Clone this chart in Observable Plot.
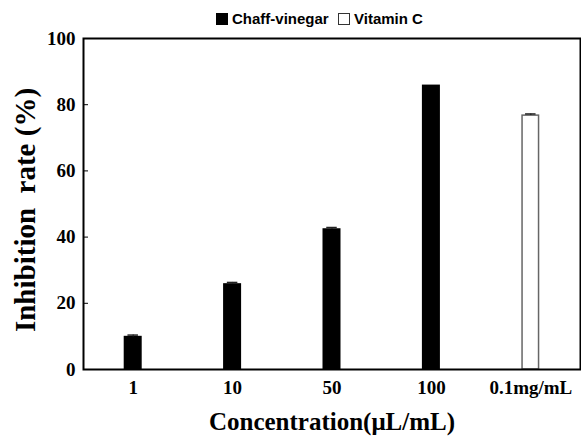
<!DOCTYPE html>
<html>
<head>
<meta charset="utf-8">
<script src="https://cdn.jsdelivr.net/npm/d3@7"></script>
<script src="https://cdn.jsdelivr.net/npm/@observablehq/plot@0.6"></script>
<style>
  html, body { margin: 0; padding: 0; background: #fff; }
  #legend { position: relative; width: 581px; height: 28px; font-family: "Liberation Sans", Arial, sans-serif; font-weight: bold; font-size: 15px; color: #000; }
  #legend .sw { position: absolute; top: 13px; width: 12px; height: 12px; box-sizing: border-box; }
  #legend .lb { position: absolute; top: 10px; line-height: 17px; }
  #chart svg { display: block; }
</style>
</head>
<body>
<div id="legend"></div>
<div id="chart"></div>
<script>
const categories = ["1", "10", "50", "100", "0.1mg/mL"];
const values = [9.8, 25.7, 42.3, 85.7, 76.7];
const errors = [0.6, 0.6, 0.6, 0, 0.5];
const groups = ["Chaff-vinegar", "Chaff-vinegar", "Chaff-vinegar", "Chaff-vinegar", "Vitamin C"];
const yTicks = [0, 20, 40, 60, 80, 100];
const seriesNames = ["Chaff-vinegar", "Vitamin C"];
const xTitle = "Concentration(\u03bcL/mL)";
const yTitle = "Inhibition\u00a0 rate (%)";

const data = categories.map((c, i) => ({cat: c, value: values[i], err: errors[i], group: groups[i]}));

// legend (HTML, above the SVG)
const legend = document.getElementById("legend");
const legendItems = [
  {name: seriesNames[0], swX: 216, txtX: 232, fill: "#000", stroke: "#000"},
  {name: seriesNames[1], swX: 338, txtX: 354, fill: "#fff", stroke: "#333"}
];
for (const it of legendItems) {
  const sw = document.createElement("span");
  sw.className = "sw";
  sw.style.left = it.swX + "px";
  sw.style.background = it.fill;
  sw.style.border = "1.5px solid " + it.stroke;
  legend.appendChild(sw);
  const lb = document.createElement("span");
  lb.className = "lb";
  lb.style.left = it.txtX + "px";
  lb.textContent = it.name;
  legend.appendChild(lb);
}

const serif = "'Liberation Serif', 'Times New Roman', serif";
const pad = 0.834;

const chart = Plot.plot({
  width: 581,
  height: 408,
  marginTop: 10,
  marginBottom: 67,
  marginLeft: 83,
  marginRight: 1,
  style: {fontFamily: serif, background: "#fff", color: "#000"},
  x: {domain: categories, paddingInner: pad, paddingOuter: pad / 2, round: false},
  y: {domain: [0, 100]},
  marks: [
    Plot.barY(data, {
      x: "cat", y: "value",
      fill: d => d.group === "Vitamin C" ? "#fff" : "#000",
      stroke: d => d.group === "Vitamin C" ? "#666" : "#000",
      strokeWidth: 1.5
    }),
    Plot.ruleX(data.filter(d => d.err > 0), {x: "cat", y1: "value", y2: d => d.value + d.err, stroke: "#222", strokeWidth: 1.2}),
    Plot.tickY(data.filter(d => d.err > 0), {x: "cat", y: d => d.value + d.err, stroke: "#222", strokeWidth: 1.5, inset: 3}),
    Plot.axisY({ticks: yTicks, tickSize: -5, tickPadding: 13, fontSize: 19, fontWeight: "bold", label: null, stroke: "#000"}),
    Plot.axisX({tickSize: 0, tickPadding: 11, fontSize: 19, fontWeight: "bold", label: null}),
    Plot.frame({stroke: "#000", strokeWidth: 2}),
    Plot.text([xTitle], {frameAnchor: "bottom", dy: 60, fontSize: 25, fontWeight: "bold", fill: "#000"}),
    Plot.text([yTitle], {frameAnchor: "left", textAnchor: "middle", rotate: -90, dx: -58, dy: 6, fontSize: 29, fontWeight: "bold", fill: "#000"})
  ]
});
document.getElementById("chart").appendChild(chart);
</script>
</body>
</html>
